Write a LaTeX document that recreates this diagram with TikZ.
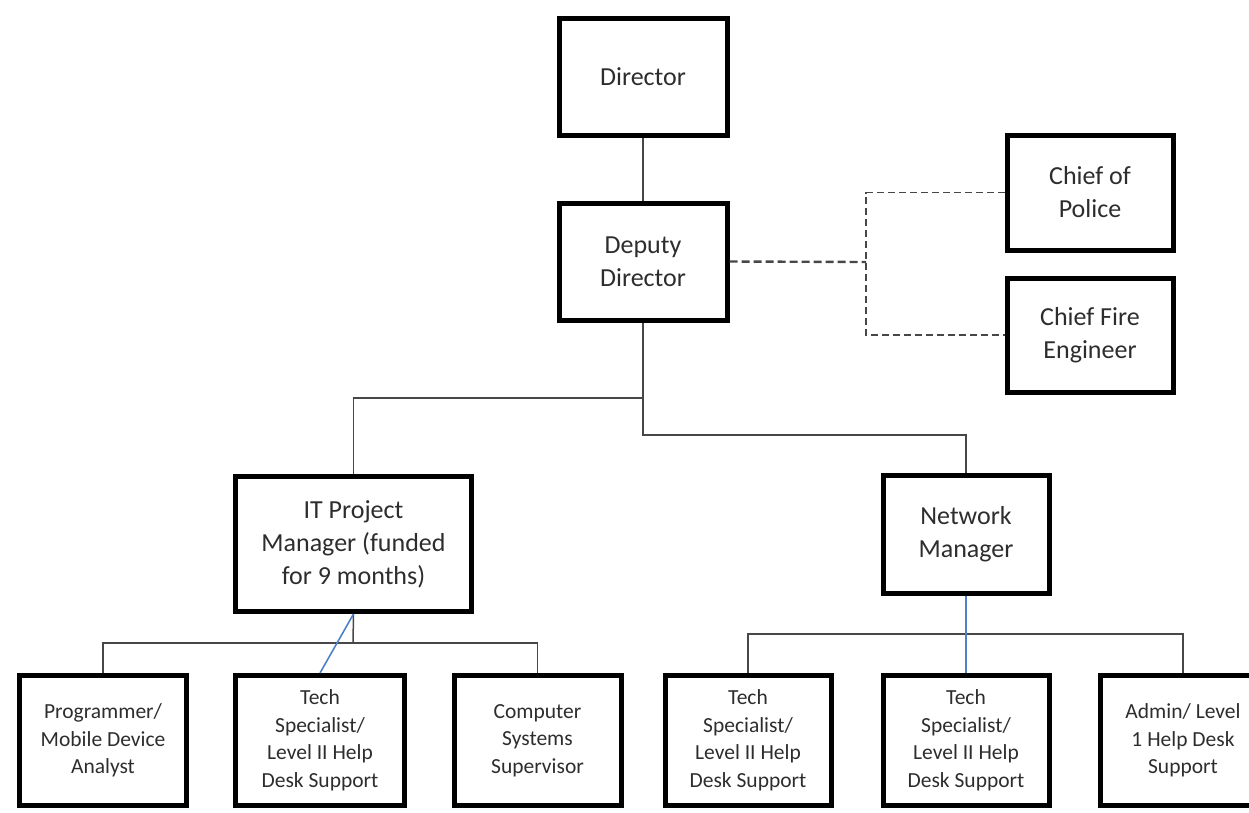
\documentclass[tikz,border=0pt]{standalone}
\usepackage{fontspec}
\setmainfont{Carlito}
\definecolor{linkblue}{RGB}{79,129,201}
\definecolor{inkgray}{RGB}{45,45,45}
\begin{document}
\begin{tikzpicture}[x=1pt,y=-1pt,
  box/.style={draw=black,line width=5pt,rectangle,align=center,text=inkgray,
    inner sep=0pt,font=\fontsize{26}{33}\selectfont},
  small/.style={box,font=\fontsize{21.5}{27.5}\selectfont,
    minimum width=167pt,minimum height=130pt},
  link/.style={draw=black!72,line width=1.5pt},
  dotted link/.style={draw=black!72,line width=1.6pt,dash pattern=on 7pt off 4pt},
  blue link/.style={draw=linkblue,line width=1.6pt}]
\useasboundingbox (0,0) rectangle (1249,812);
% upper levels
\node[box,minimum width=168pt,minimum height=117pt] (dir) at (643,76.5) {Director};
\node[box,minimum width=168pt,minimum height=117pt] (dep) at (643,261.5) {Deputy\\Director};
\node[box,minimum width=166pt,minimum height=115pt] (pol) at (1090,192.5) {Chief of\\Police};
\node[box,minimum width=166pt,minimum height=114pt] (fire) at (1090,335) {Chief Fire\\Engineer};
\node[box,minimum width=236pt,minimum height=135pt] (itpm) at (353.5,544) {IT Project\\Manager (funded\\for 9 months)};
\node[box,minimum width=166pt,minimum height=118pt] (net) at (966,534) {Network\\Manager};
% staff row
\node[small] (prog) at (103,740.5) {Programmer/\\Mobile Device\\Analyst};
\node[small,minimum width=169pt] (tech1) at (320,740.5) {Tech\\Specialist/\\Level II Help\\Desk Support};
\node[small] (css) at (537.5,740.5) {Computer\\Systems\\Supervisor};
\node[small,minimum width=166pt] (tech2) at (748,740.5) {Tech\\Specialist/\\Level II Help\\Desk Support};
\node[small,minimum width=166pt] (tech3) at (966,740.5) {Tech\\Specialist/\\Level II Help\\Desk Support};
\node[small,minimum width=166pt] (adm) at (1183,740.5) {Admin/ Level\\1 Help Desk\\Support};
% joints of the connector lines
\coordinate (dash) at (866,262);
\coordinate (busA) at (643,398);
\coordinate (busB) at (643,435);
\coordinate (busL) at (353,643);
\coordinate (busR) at (966,634);
% solid reporting lines
\draw[link] (dir.south) -- (dep.north);
\draw[link] (dep.south) -- (busB) -| (net.north);
\draw[link] (busA) -| (itpm.north);
\draw[link] (itpm.south) -- (busL);
\draw[link] (prog.north) |- (busL) -| (css.north);
\draw[link] (tech2.north) |- (busR) -| (adm.north);
\draw[blue link] (itpm.south) -- (tech1.north);
\draw[blue link] (net.south) -- (tech3.north);
% dotted advisory lines
\draw[dotted link,line width=2.4pt,dash pattern=on 8pt off 4pt] (dep.east) -- (dash);
\draw[dotted link] (pol.west) -| (dash) |- (fire.west);
\end{tikzpicture}
\end{document}
